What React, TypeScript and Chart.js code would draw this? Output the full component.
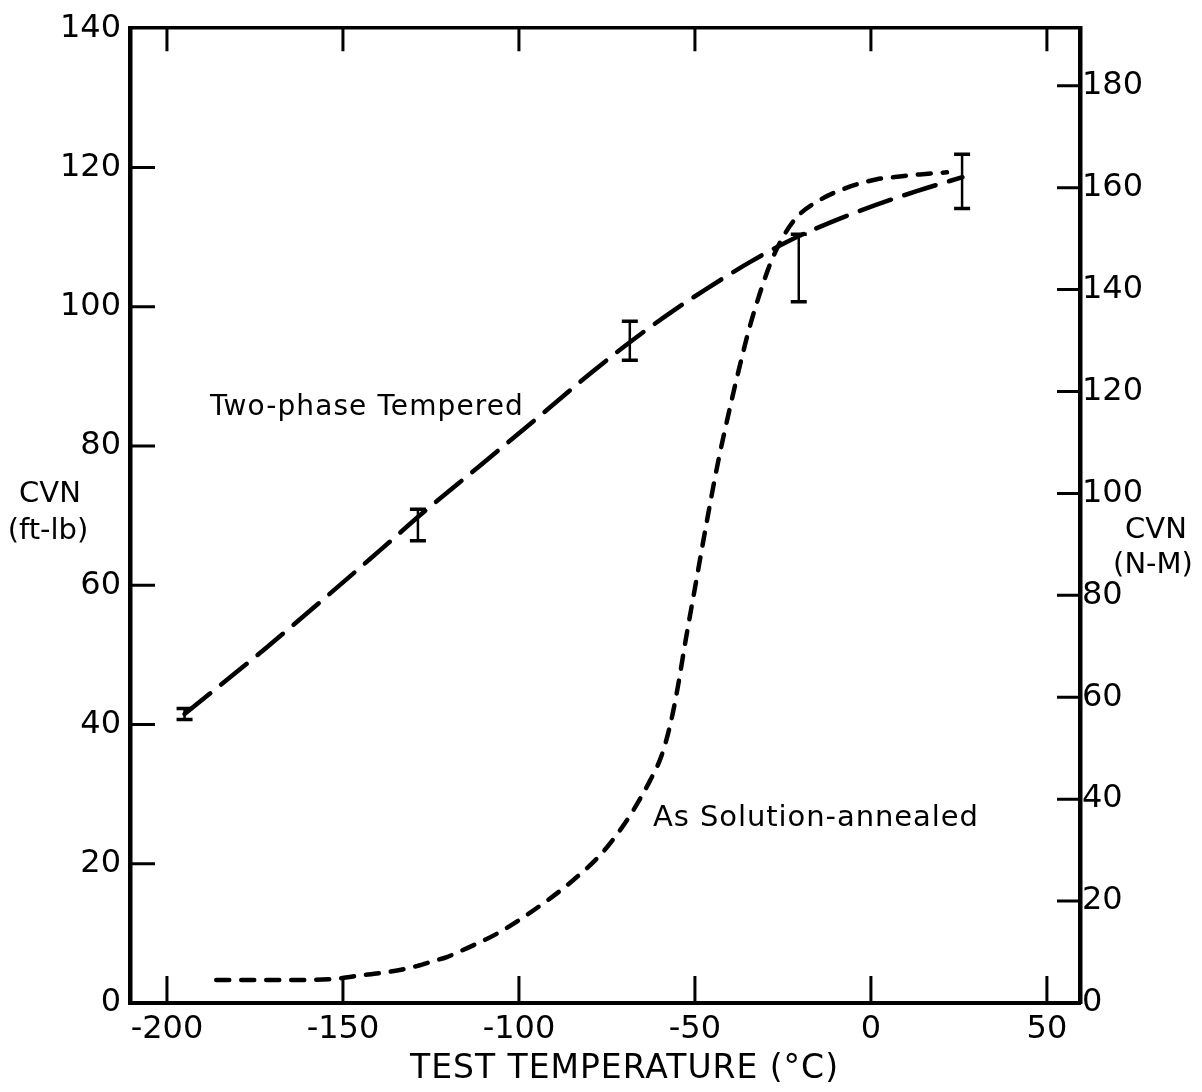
import React, { useEffect, useRef } from "react";
import { Chart, registerables } from "chart.js";

Chart.register(...registerables);

// ---- axis ticks ----
const xTickValues = [-200, -150, -100, -50, 0, 50];
const yTickValues = [0, 20, 40, 60, 80, 100, 120, 140];
const y2TickValues = [0, 20, 40, 60, 80, 100, 120, 140, 160, 180];

// ---- Two-phase Tempered (long dash) ----
const temperedX = [-195, -171.6, -139.5, -127.3, -111, -92, -80, -68.5, -56.2, -46.6, -34.4, -23.9, -12.5, -3, 13, 26];
const temperedY = [41.5, 51.1, 65, 70.4, 77.2, 85.2, 90.3, 94.9, 99.4, 102.6, 106.4, 109.3, 111.9, 113.8, 116.6, 118.6];

// ---- error bars on the tempered data ----
const errX = [-195, -128.7, -68.5, -20.5, 25.9];
const errLow = [40.7, 66.4, 92.3, 100.7, 114.1];
const errHigh = [42.3, 70.9, 97.9, 110.4, 121.9];

// ---- As Solution-annealed (short dash) ----
const annealedX = [-186, -170, -154, -146, -136.6, -129, -124.4, -120.5, -116.8, -105.4, -92, -84.7, -77, -71.3, -67.6, -62.8, -59.5, -57, -55, -52.5, -49.5, -46.5, -43.5, -40.5, -37.5, -34.5, -31.5, -28.5, -25, -21, -15.3, -6.8, 1.7, 8.2, 13.9, 21.6];
const annealedY = [3.3, 3.3, 3.4, 3.9, 4.5, 5.3, 6.0, 6.6, 7.4, 10.2, 14.7, 17.6, 21.2, 24.8, 27.6, 31.9, 35.5, 40, 45, 52.5, 61, 69.5, 77.5, 84.5, 91, 97, 102, 106.3, 110, 112.9, 115.1, 117.1, 118.3, 118.7, 119, 119.3];

// ---- in-plot labels (data units: left x, right x, baseline y) ----
const temperedLabel = { text: "Two-phase Tempered", x0: -187.8, x1: -98.9, y: 84.4, size: 28 };
const annealedLabel = { text: "As Solution-annealed", x0: -61.9, x1: 30.4, y: 25.4, size: 29 };

const FONT = '"DejaVu Sans", "Liberation Sans", sans-serif';
const X_MIN = -210.5;
const X_MAX = 59.4;
const Y_MAX = 140;
const Y2_MAX = 191.3;

function fitText(ctx: CanvasRenderingContext2D, text: string, x0: number, x1: number, y: number, size: number) {
  ctx.font = `${size}px ${FONT}`;
  (ctx as any).letterSpacing = "0px";
  const w = ctx.measureText(text).width;
  const sp = (x1 - x0 - w) / Math.max(1, text.length - 1);
  (ctx as any).letterSpacing = `${sp}px`;
  ctx.textAlign = "left";
  ctx.fillText(text, x0, y);
  (ctx as any).letterSpacing = "0px";
}

const decorPlugin = {
  id: "decor",
  beforeDraw(chart: any) {
    const ctx = chart.ctx;
    ctx.save();
    ctx.fillStyle = "#ffffff";
    ctx.fillRect(0, 0, chart.width, chart.height);
    ctx.restore();
  },
  afterDraw(chart: any) {
    const ctx: CanvasRenderingContext2D = chart.ctx;
    const { left, right, top, bottom } = chart.chartArea;
    const sx = chart.scales.x;
    const sy = chart.scales.y;
    const sy2 = chart.scales.y1;
    const TL = 27;
    ctx.save();
    ctx.strokeStyle = "#000";
    ctx.lineCap = "butt";
    ctx.lineWidth = 3;
    ctx.beginPath();
    xTickValues.forEach((v) => {
      const px = sx.getPixelForValue(v);
      ctx.moveTo(px, bottom);
      ctx.lineTo(px, bottom - TL);
      ctx.moveTo(px, top);
      ctx.lineTo(px, top + TL - 4);
    });
    yTickValues.filter((v) => v > 0 && v < Y_MAX).forEach((v) => {
      const py = sy.getPixelForValue(v);
      ctx.moveTo(left, py);
      ctx.lineTo(left + TL - 2, py);
    });
    y2TickValues.filter((v) => v > 0).forEach((v) => {
      const py = sy2.getPixelForValue(v);
      ctx.moveTo(right, py);
      ctx.lineTo(right - TL + 4, py);
    });
    ctx.stroke();

    // error bars
    errX.forEach((xv, i) => {
      const px = sx.getPixelForValue(xv);
      const pLo = sy.getPixelForValue(errLow[i]);
      const pHi = sy.getPixelForValue(errHigh[i]);
      ctx.lineWidth = 2.5;
      ctx.beginPath();
      ctx.moveTo(px, pLo);
      ctx.lineTo(px, pHi);
      ctx.stroke();
      ctx.lineWidth = 3.5;
      ctx.beginPath();
      ctx.moveTo(px - 8, pLo);
      ctx.lineTo(px + 8, pLo);
      ctx.moveTo(px - 8, pHi);
      ctx.lineTo(px + 8, pHi);
      ctx.stroke();
    });

    // texts
    ctx.fillStyle = "#000";
    ctx.textBaseline = "alphabetic";
    [temperedLabel, annealedLabel].forEach((l) => {
      fitText(ctx, l.text, sx.getPixelForValue(l.x0), sx.getPixelForValue(l.x1), sy.getPixelForValue(l.y), l.size);
    });

    // axis titles
    ctx.textBaseline = "middle";
    ctx.textAlign = "center";
    ctx.font = `29px ${FONT}`;
    ctx.fillText("CVN", 50, 494);
    ctx.fillText("(ft-lb)", 48, 531);
    ctx.fillText("CVN", 1156, 530);
    ctx.fillText("(N-M)", 1153, 565);
    ctx.textBaseline = "middle";
    fitText(ctx, "TEST TEMPERATURE (°C)", 410, 838, 1069, 33);
    ctx.restore();
  },
};

export default function App() {
  const ref = useRef<HTMLCanvasElement | null>(null);

  useEffect(() => {
    if (!ref.current) return;
    const tickFont = { family: FONT, size: 32 };
    const chart = new Chart(ref.current, {
      type: "line",
      data: {
        datasets: [
          {
            label: "Two-phase Tempered",
            data: temperedX.map((x, i) => ({ x, y: temperedY[i] })),
            borderColor: "#000",
            borderWidth: 4.5,
            borderDash: [33, 14],
            borderCapStyle: "round",
            pointRadius: 0,
            fill: false,
            cubicInterpolationMode: "monotone",
            xAxisID: "x",
            yAxisID: "y",
          },
          {
            label: "As Solution-annealed",
            data: annealedX.map((x, i) => ({ x, y: annealedY[i] })),
            borderColor: "#000",
            borderWidth: 4.5,
            borderDash: [13, 12],
            borderCapStyle: "round",
            pointRadius: 0,
            fill: false,
            cubicInterpolationMode: "monotone",
            xAxisID: "x",
            yAxisID: "y",
          },
        ],
      },
      options: {
        animation: false,
        responsive: false,
        devicePixelRatio: 1,
        layout: { padding: 0 },
        plugins: {
          legend: { display: false },
          tooltip: { enabled: false },
        },
        scales: {
          x: {
            type: "linear",
            position: "bottom",
            min: X_MIN,
            max: X_MAX,
            afterBuildTicks: (s: any) => {
              s.ticks = xTickValues.map((v) => ({ value: v }));
            },
            afterFit: (s: any) => {
              s.height = 89;
            },
            grid: { display: false, drawTicks: false },
            border: { display: true, color: "#000", width: 4 },
            ticks: { color: "#000", font: tickFont, padding: 7, maxRotation: 0, autoSkip: false },
          },
          xTop: {
            type: "linear",
            position: "top",
            min: X_MIN,
            max: X_MAX,
            afterFit: (s: any) => {
              s.height = 23;
            },
            grid: { display: false, drawTicks: false },
            border: { display: true, color: "#000", width: 3.5 },
            ticks: { display: false },
          },
          y: {
            type: "linear",
            position: "left",
            min: 0,
            max: Y_MAX,
            afterBuildTicks: (s: any) => {
              s.ticks = yTickValues.map((v) => ({ value: v }));
            },
            afterFit: (s: any) => {
              s.width = 130;
            },
            grid: { display: false, drawTicks: false },
            border: { display: true, color: "#000", width: 4.5 },
            ticks: { color: "#000", font: tickFont, padding: 9, autoSkip: false },
          },
          y1: {
            type: "linear",
            position: "right",
            min: 0,
            max: Y2_MAX,
            afterBuildTicks: (s: any) => {
              s.ticks = y2TickValues.map((v) => ({ value: v }));
            },
            afterFit: (s: any) => {
              s.width = 122;
            },
            grid: { display: false, drawTicks: false },
            border: { display: true, color: "#000", width: 4.5 },
            ticks: { color: "#000", font: tickFont, padding: 2, autoSkip: false },
          },
        },
      } as any,
      plugins: [decorPlugin],
    });
    return () => chart.destroy();
  }, []);

  return (
    <div style={{ position: "fixed", left: 0, top: 0, width: 1202, height: 1092, background: "#fff" }}>
      <canvas ref={ref} width={1202} height={1092} style={{ display: "block", width: 1202, height: 1092 }} />
    </div>
  );
}
